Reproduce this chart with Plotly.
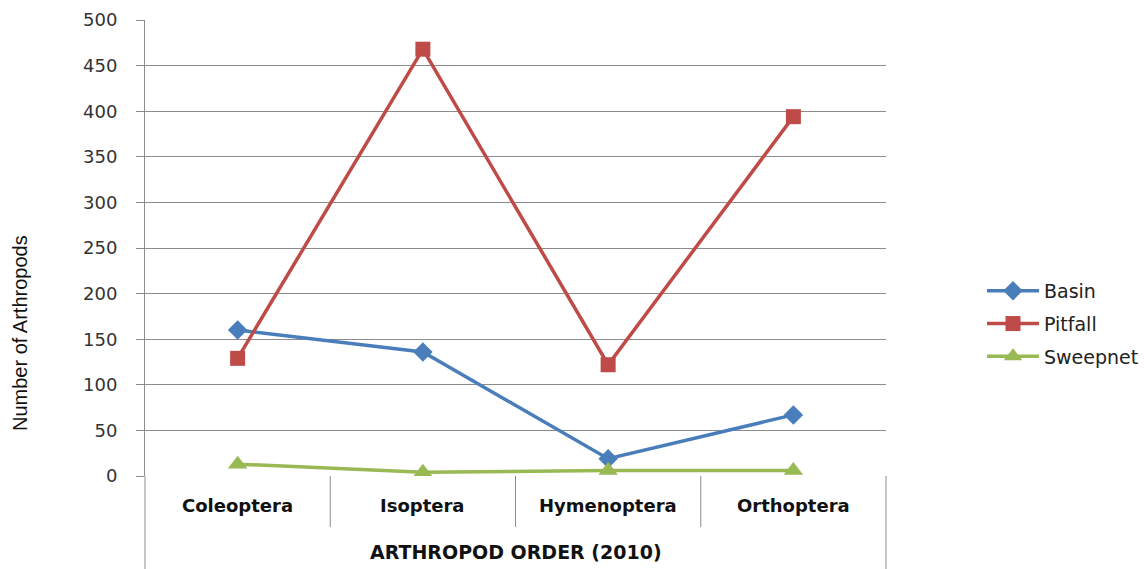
import plotly.graph_objects as go

categories = ["Coleoptera", "Isoptera", "Hymenoptera", "Orthoptera"]
basin = [160, 136, 19, 67]
pitfall = [129, 468, 122, 394]
sweepnet = [13, 4, 6, 6]
y_ticks = [0, 50, 100, 150, 200, 250, 300, 350, 400, 450, 500]

W, H = 1147, 569
L, R, T, B = 145, 261, 20, 93
plot_h = H - T - B

fig = go.Figure()
series = [
    ("Basin", basin, "#4A7EBB", "diamond", 15),
    ("Pitfall", pitfall, "#BE4B48", "square", 15),
    ("Sweepnet", sweepnet, "#98B954", "triangle-up", 17),
]
for name, vals, col, sym, sz in series:
    fig.add_trace(go.Scatter(
        x=categories, y=vals, name=name, mode="lines+markers",
        legendgroup=name,
        line=dict(color=col, width=3.5),
        marker=dict(symbol=sym, size=sz, color=col),
    ))

grid = "#8C8C8C"
fig.update_layout(
    width=W, height=H,
    margin=dict(l=L, r=R, t=T, b=B, autoexpand=False),
    plot_bgcolor="white", paper_bgcolor="white",
    font=dict(family="DejaVu Sans", color="#222222"),
    showlegend=True,
    legend=dict(
        xref="container", yref="container",
        x=982 / W, y=1 - 272 / H,
        xanchor="left", yanchor="top",
        font=dict(size=19, family="DejaVu Sans", color="#222222"),
        itemwidth=52, tracegroupgap=5,
        bgcolor="rgba(0,0,0,0)",
    ),
    xaxis=dict(
        type="category", range=[-0.5, 3.5], showgrid=False,
        showticklabels=False, ticks="", showline=False, zeroline=False,
        fixedrange=True, automargin=False,
    ),
    yaxis=dict(
        range=[0, 500], tickvals=y_ticks, showgrid=True, gridcolor=grid,
        gridwidth=1, ticks="outside", ticklen=8, tickcolor=grid,
        showline=True, linecolor=grid, linewidth=1, zeroline=False,
        tickfont=dict(size=18, family="DejaVu Sans", color="#333333"),
        ticklabelstandoff=15, automargin=False,
    ),
)

# category table lines below the plot
sep_bottom = -(527 - 476) / plot_h
full_bottom = -(H - 476) / plot_h
for i in range(len(categories) - 1):
    fig.add_shape(type="line", xref="x", yref="paper",
                  x0=i + 0.5, x1=i + 0.5, y0=0, y1=sep_bottom,
                  line=dict(color=grid, width=1))
fig.add_shape(type="line", xref="paper", yref="paper",
              x0=0, x1=0, y0=0, y1=full_bottom, line=dict(color=grid, width=1))
fig.add_shape(type="line", xref="paper", yref="paper",
              x0=1, x1=1, y0=0, y1=full_bottom, line=dict(color=grid, width=1))

for c in categories:
    fig.add_annotation(x=c, xref="x", y=-(505 - 476) / plot_h, yref="paper",
                       text=c, showarrow=False, yanchor="middle",
                       font=dict(size=18, family="DejaVu Sans", color="#111111",
                                 weight="bold"))

fig.add_annotation(x=0.5, xref="paper", y=-(552 - 476) / plot_h, yref="paper",
                   text="ARTHROPOD ORDER (2010)", showarrow=False,
                   yanchor="middle",
                   font=dict(size=19, family="DejaVu Sans", color="#111111",
                             weight="bold"))

fig.add_annotation(x=-(L - 20) / (W - L - R), xref="paper",
                   y=(476 - 333) / plot_h, yref="paper",
                   text="Number of Arthropods", showarrow=False, textangle=-90,
                   xanchor="center", yanchor="middle",
                   font=dict(size=20, family="Liberation Sans Narrow, Liberation Sans",
                             color="#111111"))

fig.write_html("out.html",
               config={"displayModeBar": False},
               post_script="document.body.style.margin='0';document.body.style.overflow='hidden';")
